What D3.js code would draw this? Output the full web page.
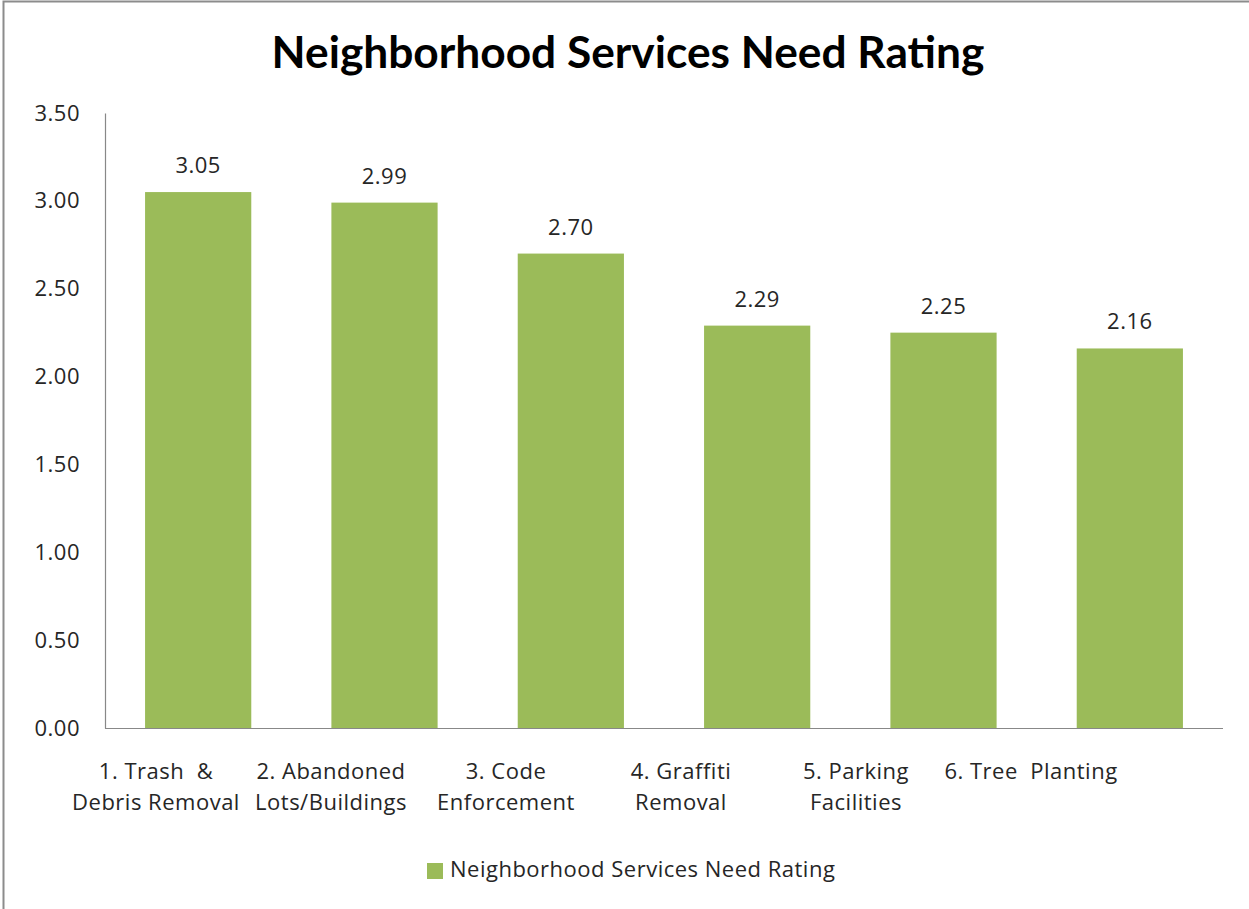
<!DOCTYPE html>
<html><head><meta charset="utf-8">
<script src="https://cdn.jsdelivr.net/npm/d3@7"></script>
<style>html,body{margin:0;padding:0;background:#fff;overflow:hidden}</style>
</head><body>
<script>
const titleText = "Neighborhood Services Need Rating";
const seriesName = "Neighborhood Services Need Rating";
const categories = ["1. Trash & Debris Removal","2. Abandoned Lots/Buildings","3. Code Enforcement","4. Graffiti Removal","5. Parking Facilities","6. Tree Planting"];
const categoryLines = [["1. Trash  &","Debris Removal"],["2. Abandoned","Lots/Buildings"],["3. Code","Enforcement"],["4. Graffiti","Removal"],["5. Parking","Facilities"],["6. Tree  Planting"]];
const values = [3.05, 2.99, 2.70, 2.29, 2.25, 2.16];
const yTicks = [0, 0.5, 1.0, 1.5, 2.0, 2.5, 3.0, 3.5];

const W = 1249, H = 909;
const font = "'Open Sans', Lato, sans-serif";
const titleFont = "Lato, 'Open Sans', sans-serif";
const ls = "0.5px";
const svg = d3.select("body").append("svg").attr("width", W).attr("height", H);

// frame
svg.append("path").attr("d", "M3.5,909 L3.5,1.5 L1249,1.5").attr("fill","none").attr("stroke","#8c8c8c").attr("stroke-width",2);

const plot = {left:105, right:1223, top:113, bottom:728};
const x = d3.scaleBand().domain(categories).range([plot.left, plot.right]).paddingInner(0.43).paddingOuter(0.215);
const y = d3.scaleLinear().domain([0, 3.5]).range([plot.bottom, plot.top]);
const xl = d3.scalePoint().domain(categories).range([156, 1031]);

// title
const t = svg.append("text").attr("x", 628).attr("y", 68).attr("text-anchor","middle")
  .attr("font-family", titleFont).attr("font-weight","bold").attr("font-size",40).attr("fill","#000").text(titleText);
const tw = t.node().getComputedTextLength();
t.attr("font-size", 40 * 713 / tw);

// y axis
const yAxis = d3.axisLeft(y).tickValues(yTicks).tickSize(0).tickPadding(25).tickFormat(d3.format(".2f"));
const gy = svg.append("g").attr("transform", `translate(${plot.left},0)`).call(yAxis);
gy.select(".domain").attr("stroke","#888").attr("stroke-width",1.2);
gy.selectAll("text").attr("font-family", font).attr("font-size",22).attr("letter-spacing",ls).attr("fill","#262626");

// bars
svg.append("g").selectAll("rect").data(values).join("rect")
  .attr("x", (d,i) => x(categories[i])).attr("width", x.bandwidth())
  .attr("y", d => y(d)).attr("height", d => y(0) - y(d)).attr("fill", "#9BBB59");

// x axis line
svg.append("line").attr("x1", plot.left).attr("x2", plot.right).attr("y1", y(0)+0.5).attr("y2", y(0)+0.5)
  .attr("stroke","#888").attr("stroke-width",1.2);

// value labels
svg.append("g").selectAll("text").data(values).join("text")
  .attr("x", (d,i) => x(categories[i]) + x.bandwidth()/2).attr("y", d => y(d) - 19)
  .attr("text-anchor","middle").attr("font-family", font).attr("font-size",22).attr("letter-spacing",ls).attr("fill","#262626")
  .text(d => d3.format(".2f")(d));

// category labels
const cl = svg.append("g").selectAll("text").data(categories).join("text")
  .attr("text-anchor","middle").attr("font-family", font).attr("font-size",22).attr("letter-spacing",ls).attr("fill","#262626")
  .attr("transform", d => `translate(${xl(d)},0)`);
cl.selectAll("tspan").data((d,i) => categoryLines[i]).join("tspan")
  .attr("x", 0).attr("y", (d,j) => 779 + j*31).attr("xml:space","preserve").text(d => d);

// legend
svg.append("rect").attr("x",427).attr("y",863).attr("width",16).attr("height",16).attr("fill","#9BBB59");
svg.append("text").attr("x",450).attr("y",877).attr("font-family", font).attr("font-size",22).attr("letter-spacing",ls).attr("fill","#262626").text(seriesName);
</script>
</body></html>
